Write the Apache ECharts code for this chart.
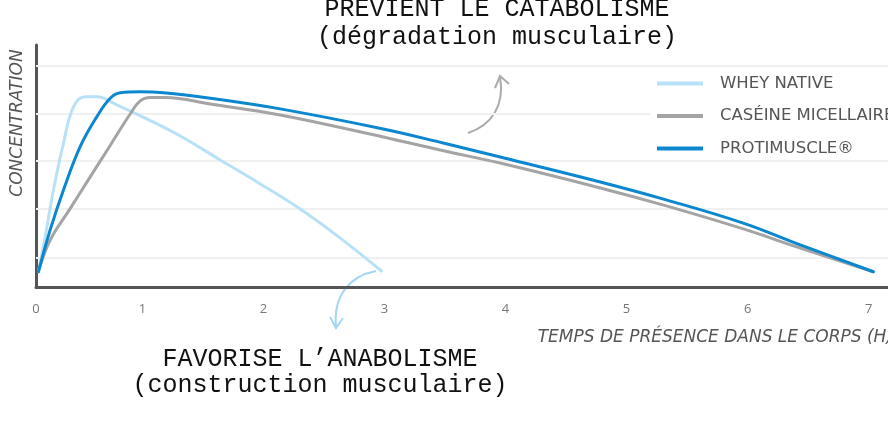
<!DOCTYPE html>
<html>
<head>
<meta charset="utf-8">
<script src="https://cdn.jsdelivr.net/npm/echarts@6/dist/echarts.min.js"></script>
<style>
html,body{margin:0;padding:0;background:#fff;}
#chart{width:888px;height:427px;}
</style>
</head>
<body>
<div id="chart"></div>
<script>
// ---- Data (hours, concentration in arbitrary units) ----
const seriesNames = ['WHEY NATIVE', 'CASÉINE MICELLAIRE', 'PROTIMUSCLE®'];
const seriesColors = ['#b8e1f8', '#a4a4a4', '#0b87cf'];

const wheyNative = [
  [0.140, 6.3], [0.196, 20.8], [0.264, 40.1], [0.347, 59.4], [0.430, 74.5],
  [0.526, 78.6], [0.623, 78.6], [0.791, 75.2], [1.039, 69.4], [1.312, 62.4],
  [1.642, 52.5], [1.973, 42.6], [2.303, 32.2], [2.634, 20.2], [2.974, 6.6]
];
const caseineMicellaire = [
  [0.140, 6.3], [0.237, 19.4], [0.402, 32.4], [0.568, 45.5], [0.733, 58.5],
  [0.898, 71.5], [0.981, 76.9], [1.064, 78.3], [1.188, 78.3], [1.560, 75.6],
  [2.138, 71.1], [2.989, 62.0], [3.460, 56.6], [3.989, 50.8], [4.783, 40.9],
  [5.328, 33.5], [5.964, 24.0], [6.435, 16.1], [7.039, 6.3]
];
const protimuscle = [
  [0.140, 6.3], [0.237, 23.6], [0.347, 40.1], [0.485, 58.0], [0.623, 70.4],
  [0.733, 78.0], [0.816, 80.3], [0.981, 80.7], [1.174, 80.3], [1.560, 78.0],
  [2.138, 73.6], [2.989, 65.3], [3.485, 59.5], [3.989, 53.3], [4.783, 43.4],
  [5.328, 36.0], [5.964, 26.4], [6.435, 17.4], [7.039, 6.3]
];

const xTickValues = [0.12, 1, 2, 3, 4, 5, 6, 7];
const xTickLabels = ['0', '1', '2', '3', '4', '5', '6', '7'];
const gridLineValues = [12, 32.5, 52, 71.5, 91.3];

const xAxisName = 'TEMPS DE PRÉSENCE DANS LE CORPS (H)';
const yAxisName = 'CONCENTRATION';
const topNote = ['PRÉVIENT LE CATABOLISME', '(dégradation musculaire)'];
const bottomNote = ['FAVORISE L’ANABOLISME', '(construction musculaire)'];

// ---- Chart ----
const chart = echarts.init(document.getElementById('chart'), null, {renderer: 'canvas'});
const sansFont = '"Open Sans", "Noto Sans", sans-serif';
const wideFont = '"DejaVu Sans", "Open Sans", sans-serif';
const monoFont = '"Liberation Mono", "DejaVu Sans Mono", monospace';

const dataSets = [wheyNative, caseineMicellaire, protimuscle];

const series = [{
  type: 'line',
  name: '__grid',
  data: [],
  silent: true,
  z: 1,
  markLine: {
    silent: true,
    z: 1,
    symbol: 'none',
    label: {show: false},
    lineStyle: {color: '#f0f0f0', type: 'solid', width: 2},
    data: gridLineValues.map(v => ({yAxis: v}))
  }
}].concat(seriesNames.map((n, i) => ({
  type: 'line',
  name: n,
  data: dataSets[i],
  smooth: 0.4,
  showSymbol: false,
  symbol: 'none',
  z: 2,
  itemStyle: {color: seriesColors[i]},
  lineStyle: {color: seriesColors[i], width: 3, cap: 'round', join: 'round'}
})));

chart.setOption({
  animation: false,
  backgroundColor: '#ffffff',
  grid: {left: 36, right: 0, top: 45, bottom: 140, containLabel: false},
  legend: {
    data: seriesNames,
    orient: 'vertical',
    left: 650,
    top: 69,
    z: 10,
    padding: [6, 0, 1, 7],
    backgroundColor: '#ffffff',
    itemWidth: 46,
    itemHeight: 4,
    itemGap: 15.5,
    icon: 'rect',
    textStyle: {fontFamily: wideFont, fontSize: 16.5, color: '#555', padding: [0, 0, 0, 12]}
  },
  xAxis: {
    type: 'value',
    min: 0.12,
    max: 7.16,
    splitLine: {show: false},
    axisTick: {show: false},
    axisLine: {show: true, onZero: false, lineStyle: {color: '#555', width: 3}},
    axisLabel: {
      customValues: xTickValues,
      formatter: (v) => xTickLabels[xTickValues.indexOf(v)] ?? String(Math.round(v)),
      color: '#777',
      fontFamily: sansFont,
      fontSize: 13,
      margin: 16
    }
  },
  yAxis: {
    type: 'value',
    min: 0,
    max: 100,
    splitLine: {show: false},
    axisTick: {show: false},
    axisLabel: {show: false},
    axisLine: {show: true, onZero: false, lineStyle: {color: '#555', width: 3}}
  },
  graphic: [
    {type: 'text', x: 18, y: 123, rotation: Math.PI / 2,
      style: {text: yAxisName, textAlign: 'center', textVerticalAlign: 'middle',
        font: 'italic 17px ' + wideFont, fill: '#555'}},
    {type: 'text', x: 893, y: 338,
      style: {text: xAxisName, textAlign: 'right', textVerticalAlign: 'middle',
        font: 'italic 17px ' + wideFont, fill: '#555'}},
    {type: 'text', x: 497, y: 9,
      style: {text: topNote[0], textAlign: 'center', textVerticalAlign: 'middle',
        font: '25px ' + monoFont, fill: '#111'}},
    {type: 'text', x: 497, y: 37,
      style: {text: topNote[1], textAlign: 'center', textVerticalAlign: 'middle',
        font: '25px ' + monoFont, fill: '#111'}},
    {type: 'text', x: 320, y: 359,
      style: {text: bottomNote[0], textAlign: 'center', textVerticalAlign: 'middle',
        font: '25px ' + monoFont, fill: '#111'}},
    {type: 'text', x: 320, y: 385,
      style: {text: bottomNote[1], textAlign: 'center', textVerticalAlign: 'middle',
        font: '25px ' + monoFont, fill: '#111'}},
    // gray arrow
    {type: 'bezierCurve', shape: {x1: 468, y1: 133, cpx1: 492, cpy1: 125, cpx2: 505, cpy2: 105, x2: 500, y2: 77},
      style: {stroke: '#ababab', lineWidth: 2, fill: null}},
    {type: 'polyline', shape: {points: [[495, 88], [500, 76], [509, 84]]},
      style: {stroke: '#ababab', lineWidth: 2, fill: null}},
    // light blue arrow
    {type: 'bezierCurve', shape: {x1: 376, y1: 271, cpx1: 350, cpy1: 276, cpx2: 333, cpy2: 295, x2: 336, y2: 327},
      style: {stroke: '#a3d6f3', lineWidth: 2, fill: null}},
    {type: 'polyline', shape: {points: [[330, 317], [336, 328], [343, 318]]},
      style: {stroke: '#a3d6f3', lineWidth: 2, fill: null}}
  ],
  series: series
});
</script>
</body>
</html>
